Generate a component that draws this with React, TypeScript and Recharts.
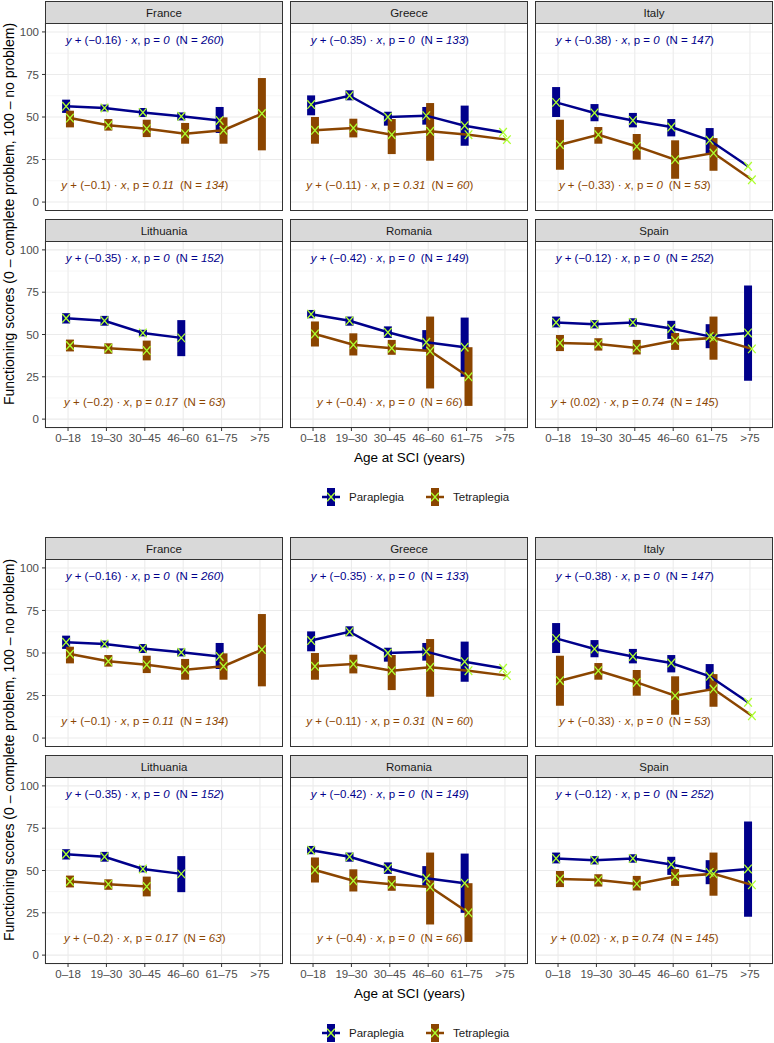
import React from "react";
import {
  ComposedChart,
  Line,
  Scatter,
  ErrorBar,
  XAxis,
  YAxis,
  CartesianGrid,
  ReferenceLine,
} from "recharts";

const AGE_GROUPS = ["0–18", "19–30", "30–45", "46–60", "61–75", ">75"];

type Means = (number | null)[];
type Intervals = ([number, number] | null)[];

// mean functioning score per age group (null = no patients)
const franceParaMean: Means = [56.3, 55.3, 52.7, 50.4, 48, null];
const franceParaCI: Intervals = [[52.4, 60.2], [53.3, 57.3], [50, 55.3], [48, 52.7], [40.6, 55.9], null];
const franceTetraMean: Means = [49.4, 45.1, 43.1, 40.2, 42.2, 52];
const franceTetraCI: Intervals = [[43.9, 53.7], [42, 48.8], [38.2, 48.4], [34.3, 46.5], [34.3, 49.8], [30.4, 72.9]];

const greeceParaMean: Means = [57.3, 62.5, 50, 50.8, 44.9, 41];
const greeceParaCI: Intervals = [[51, 62.7], [59.8, 65.7], [44.9, 53.1], [45.5, 55.9], [33.1, 56.7], null];
const greeceTetraMean: Means = [42.2, 43.5, 39.6, 41.6, 39.6, 36.7];
const greeceTetraCI: Intervals = [[34.3, 50], [38, 49], [28.2, 48.8], [24.3, 58.2], null, null];

const italyParaMean: Means = [58.6, 52.4, 48, 44.1, 36.3, 21];
const italyParaCI: Intervals = [[50, 67.6], [47.5, 57.6], [43.9, 52.4], [38.6, 48.8], [28.4, 43.5], null];
const italyTetraMean: Means = [33.7, 39.6, 32.7, 24.9, 28.8, 13.1];
const italyTetraCI: Intervals = [[19, 48.4], [34.3, 44.1], [24.9, 40], [13.7, 36.3], [18.4, 37.6], null];

const lithuaniaParaMean: Means = [59.6, 58.1, 50.9, 48, null, null];
const lithuaniaParaCI: Intervals = [[56.5, 62.6], [55.2, 61], [48.9, 52.8], [37.2, 58.5], null, null];
const lithuaniaTetraMean: Means = [43.5, 41.9, 40.5, null, null, null];
const lithuaniaTetraCI: Intervals = [[40, 47], [38.6, 44.8], [34.7, 46.4], null, null, null];

const romaniaParaMean: Means = [62, 58.1, 51.3, 45.4, 42.5, null];
const romaniaParaCI: Intervals = [[59.6, 64.5], [55.2, 60.6], [48, 54.8], [40.9, 52.6], [25, 60], null];
const romaniaTetraMean: Means = [50.3, 43.9, 41.9, 40.2, 25, null];
const romaniaTetraCI: Intervals = [[42.9, 57.7], [37.6, 50.7], [38, 46.8], [18.1, 60.6], [7.8, 42.5], null];

const spainParaMean: Means = [57.1, 56.1, 57.1, 53.6, 48.9, 50.9];
const spainParaCI: Intervals = [[54.2, 60.6], [53.6, 58.5], [54.6, 59.6], [47.4, 58.1], [41.9, 56.1], [22.6, 78.9]];
const spainTetraMean: Means = [45, 44.4, 42.1, 46.4, 48, 41.5];
const spainTetraCI: Intervals = [[40.2, 49.7], [40.5, 47.8], [38.2, 46.8], [40.9, 50.9], [35.1, 60.6], null];

// trend annotations: [slope, p value, N]
type Note = [string, string, string];
const paraNotes: Note[] = [
  ["−0.16", "0", "260"], ["−0.35", "0", "133"], ["−0.38", "0", "147"],
  ["−0.35", "0", "152"], ["−0.42", "0", "149"], ["−0.12", "0", "252"],
];
const tetraNotes: Note[] = [
  ["−0.1", "0.11", "134"], ["−0.11", "0.31", "60"], ["−0.33", "0", "53"],
  ["−0.2", "0.17", "63"], ["−0.4", "0", "66"], ["0.02", "0.74", "145"],
];

const COUNTRIES = ["France", "Greece", "Italy", "Lithuania", "Romania", "Spain"];
const PARA_MEANS = [franceParaMean, greeceParaMean, italyParaMean, lithuaniaParaMean, romaniaParaMean, spainParaMean];
const PARA_CIS = [franceParaCI, greeceParaCI, italyParaCI, lithuaniaParaCI, romaniaParaCI, spainParaCI];
const TETRA_MEANS = [franceTetraMean, greeceTetraMean, italyTetraMean, lithuaniaTetraMean, romaniaTetraMean, spainTetraMean];
const TETRA_CIS = [franceTetraCI, greeceTetraCI, italyTetraCI, lithuaniaTetraCI, romaniaTetraCI, spainTetraCI];

const PARA_COLOR = "#00008B";
const TETRA_COLOR = "#8B4500";
const MARK_COLOR = "#ADFF2F";
const FONT = '"Liberation Sans", Arial, Helvetica, sans-serif';

const PANEL_LEFT = [45, 290, 535];
const PANEL_W = 238;
const PLOT_TOP = [23, 241];
const PLOT_H = [188, 187];
const STRIP_H = 22;
const DODGE = 0.05;

function toPoints(mean: Means, ci: Intervals, shift: number) {
  const pts: { x: number; y: number; err: [number, number] | null }[] = [];
  mean.forEach((m, i) => {
    if (m == null) return;
    const c = ci[i];
    pts.push({ x: i + 1 + shift, y: m, err: c ? [m - c[0], c[1] - m] : null });
  });
  return pts;
}

const XMark = (props: any) => {
  const { cx, cy } = props;
  if (cx == null || cy == null) return <g />;
  const sx = 3.8;
  const sy = 4.3;
  return (
    <path
      d={`M${cx - sx},${cy - sy}L${cx + sx},${cy + sy}M${cx - sx},${cy + sy}L${cx + sx},${cy - sy}`}
      stroke={MARK_COLOR}
      strokeWidth={1.3}
      fill="none"
    />
  );
};

const Empty = () => <g />;

function noteShape(note: Note, color: string) {
  return (props: any) => {
    const { cx, cy } = props;
    const [slope, p, n] = note;
    return (
      <text
        x={cx}
        y={cy}
        textAnchor="middle"
        dominantBaseline="central"
        fill={color}
        fontSize={11.5}
        fontFamily={FONT}
      >
        <tspan fontStyle="italic">y</tspan>
        <tspan> + ({slope}) · </tspan>
        <tspan fontStyle="italic">x</tspan>
        <tspan>, p = </tspan>
        <tspan fontStyle="italic">{p}</tspan>
        <tspan dx={6}>(N = </tspan>
        <tspan fontStyle="italic">{n}</tspan>
        <tspan>)</tspan>
      </text>
    );
  };
}

function Panel({ idx, offset }: { idx: number; offset: number }) {
  const col = idx % 3;
  const row = Math.floor(idx / 3);
  const isLeft = col === 0;
  const isBottom = row === 1;
  const plotLeft = PANEL_LEFT[col];
  const yAxisW = isLeft ? plotLeft : 0;
  const chartLeft = plotLeft - yAxisW;
  const plotTop = PLOT_TOP[row] + offset;
  const plotH = PLOT_H[row];
  const xAxisH = 26;
  const height = plotH + (isBottom ? xAxisH : 0);

  const paraPts = toPoints(PARA_MEANS[idx], PARA_CIS[idx], -DODGE);
  const tetraPts = toPoints(TETRA_MEANS[idx], TETRA_CIS[idx], DODGE);
  const paraErr = paraPts.filter((d) => d.err);
  const tetraErr = tetraPts.filter((d) => d.err);

  return (
    <>
      <div
        style={{
          position: "absolute",
          left: plotLeft,
          top: plotTop - STRIP_H,
          width: PANEL_W,
          height: STRIP_H + 1,
          boxSizing: "border-box",
          background: "#D9D9D9",
          border: "1px solid #333333",
          display: "flex",
          alignItems: "center",
          justifyContent: "center",
          fontFamily: FONT,
          fontSize: 11.5,
          color: "#1A1A1A",
        }}
      >
        {COUNTRIES[idx]}
      </div>
      <div style={{ position: "absolute", left: chartLeft, top: plotTop }}>
        <ComposedChart
          width={PANEL_W + yAxisW}
          height={height}
          margin={{ top: 0, right: 0, bottom: 0, left: 0 }}
        >
          <CartesianGrid stroke="#EBEBEB" strokeWidth={1.1} />
          {[12.5, 37.5, 62.5, 87.5].map((v) => (
            <ReferenceLine key={v} y={v} stroke="#F0F0F0" strokeWidth={0.6} />
          ))}
          <XAxis
            type="number"
            dataKey="x"
            domain={[0.4, 6.6]}
            ticks={[1, 2, 3, 4, 5, 6]}
            tickFormatter={(v: number) => AGE_GROUPS[v - 1]}
            allowDataOverflow
            interval={0}
            hide={!isBottom}
            height={xAxisH}
            axisLine={false}
            tickSize={3}
            tickMargin={3}
            tickLine={{ stroke: "#333333" }}
            tick={{ fontSize: 11.5, fill: "#4D4D4D", fontFamily: FONT }}
          />
          <YAxis
            type="number"
            domain={[-5.25, 105.25]}
            ticks={[0, 25, 50, 75, 100]}
            allowDataOverflow
            interval={0}
            hide={!isLeft}
            width={yAxisW}
            axisLine={false}
            tickSize={3}
            tickMargin={3}
            tickLine={{ stroke: "#333333" }}
            tick={{ fontSize: 11.5, fill: "#4D4D4D", fontFamily: FONT }}
          />
          <Scatter data={paraErr} dataKey="y" shape={Empty} isAnimationActive={false}>
            <ErrorBar dataKey="err" direction="y" width={0} strokeWidth={8} stroke={PARA_COLOR} />
          </Scatter>
          <Scatter data={tetraErr} dataKey="y" shape={Empty} isAnimationActive={false}>
            <ErrorBar dataKey="err" direction="y" width={0} strokeWidth={8} stroke={TETRA_COLOR} />
          </Scatter>
          <Line data={paraPts} dataKey="y" stroke={PARA_COLOR} strokeWidth={2.5} dot={false} isAnimationActive={false} />
          <Line data={tetraPts} dataKey="y" stroke={TETRA_COLOR} strokeWidth={2.5} dot={false} isAnimationActive={false} />
          <Scatter data={paraPts} dataKey="y" shape={XMark} isAnimationActive={false} />
          <Scatter data={tetraPts} dataKey="y" shape={XMark} isAnimationActive={false} />
          <Scatter data={[{ x: 3, y: 95 }]} dataKey="y" shape={noteShape(paraNotes[idx], PARA_COLOR)} isAnimationActive={false} />
          <Scatter data={[{ x: 3, y: 10 }]} dataKey="y" shape={noteShape(tetraNotes[idx], TETRA_COLOR)} isAnimationActive={false} />
        </ComposedChart>
      </div>
      <div
        style={{
          position: "absolute",
          left: plotLeft,
          top: plotTop,
          width: PANEL_W,
          height: plotH,
          boxSizing: "border-box",
          border: "1px solid #333333",
          pointerEvents: "none",
        }}
      />
    </>
  );
}

function LegendKey({ color }: { color: string }) {
  return (
    <svg width={18} height={20} style={{ display: "block" }}>
      <line x1={0} y1={10} x2={18} y2={10} stroke={color} strokeWidth={2.5} />
      <rect x={5} y={1} width={8} height={18} fill={color} />
      <XMark cx={9} cy={10} />
    </svg>
  );
}

function Figure({ offset }: { offset: number }) {
  return (
    <>
      {COUNTRIES.map((_, i) => (
        <Panel key={i} idx={i} offset={offset} />
      ))}
      <div
        style={{
          position: "absolute",
          left: 9 - 250,
          top: offset + 214 - 10,
          width: 500,
          height: 20,
          transform: "rotate(-90deg)",
          textAlign: "center",
          fontFamily: FONT,
          fontSize: 14,
          lineHeight: "20px",
          color: "#000",
          whiteSpace: "nowrap",
        }}
      >
        Functioning scores (0 – complete problem, 100 – no problem)
      </div>
      <div
        style={{
          position: "absolute",
          left: 45,
          width: 729,
          top: offset + 449,
          textAlign: "center",
          fontFamily: FONT,
          fontSize: 13.5,
          lineHeight: "18px",
          color: "#000",
        }}
      >
        Age at SCI (years)
      </div>
      <div
        style={{
          position: "absolute",
          left: 322,
          top: offset + 487,
          display: "flex",
          alignItems: "center",
          fontFamily: FONT,
          fontSize: 11.5,
          color: "#1A1A1A",
        }}
      >
        <LegendKey color={PARA_COLOR} />
        <span style={{ marginLeft: 9, marginRight: 22 }}>Paraplegia</span>
        <LegendKey color={TETRA_COLOR} />
        <span style={{ marginLeft: 9 }}>Tetraplegia</span>
      </div>
    </>
  );
}

export default function App() {
  return (
    <div
      style={{
        position: "absolute",
        left: 0,
        top: 0,
        width: 774,
        height: 1043,
        background: "#fff",
        overflow: "hidden",
      }}
    >
      <Figure offset={0} />
      <Figure offset={536} />
    </div>
  );
}
